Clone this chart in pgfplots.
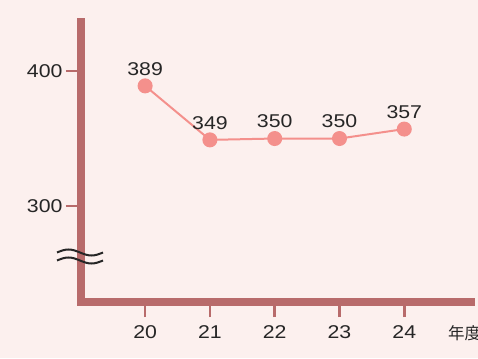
\documentclass[border=0pt]{standalone}
\usepackage{pgfplots}
\pgfplotsset{compat=1.18}
\usepackage{fontspec}
\setmainfont{Liberation Sans}[FakeStretch=1.15]
\newfontfamily\cjk{Noto Sans CJK JP}
\definecolor{bg}{HTML}{FCF0EE}
\definecolor{axc}{HTML}{B86B6B}
\definecolor{linec}{HTML}{F4908C}
\definecolor{txt}{HTML}{262626}
\begin{document}
\begin{tikzpicture}[x=1pt,y=1pt]
\path[use as bounding box, fill=bg] (0,0) rectangle (478,358);
\begin{axis}[
  at={(81pt,56pt)}, anchor=south west,
  scale only axis, width=390pt, height=280.5pt,
  xmin=19.01, xmax=25.03, ymin=228.9, ymax=436.7,
  axis x line*=bottom, axis y line*=left,
  axis line style={-, line width=7.5pt, color=axc, line cap=rect},
  xtick={20,21,22,23,24}, ytick={300,400},
  tick align=outside, major tick length=15pt,
  tick style={line width=2.5pt, color=axc},
  /pgf/number format/assume math mode=true,
  ticklabel style={font=\fontsize{18.5}{20}\selectfont, text=txt},
  xticklabel style={yshift=-5pt},
  clip=false,
]
\addplot[color=linec, line width=2pt, mark=*, mark size=6.5pt,
  mark options={fill=linec, draw=linec},
  nodes near coords,
  every node near coord/.style={anchor=south, inner sep=0pt, yshift=9.5pt,
     font=\fontsize{18.5}{20}\selectfont, text=txt}]
 coordinates {(20,389) (21,349) (22,350) (23,350) (24,357)};
\end{axis}
\draw[line width=2pt, color=txt] (57,105.5) sin (68.5,108.5) cos (80,105.5) sin (91.5,102.5) cos (103,105.5);
\draw[line width=2pt, color=txt] (57,97.5) sin (68.5,100.5) cos (80,97.5) sin (91.5,94.5) cos (103,97.5);
\node[anchor=west, inner sep=0pt, text=txt, font=\cjk\fontsize{16.5}{18}\selectfont] at (448,24.5) {年度};
\end{tikzpicture}
\end{document}
